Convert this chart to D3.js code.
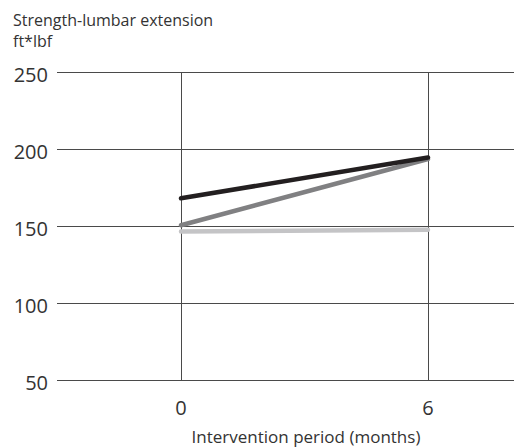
<!DOCTYPE html>
<html>
  <head>
    <meta charset="utf-8" />
    <title>Strength-lumbar extension</title>
    <script src="https://d3js.org/d3.v7.min.js"></script>
    <style>
        body {
            margin:0;
            background:#fff;
        }
        text {
            font-family: "Open Sans", "Noto Sans", sans-serif;
            fill: #333;
        }
    </style>
  </head>
  <body>
    <svg id="viz"></svg>

    <script>
        // data
        var months = [0, 6];
        var yTicks = [50, 100, 150, 200, 250];
        var seriesNames = ["light", "mid", "dark"];
        var lightValues = [146.5, 147.5];
        var midValues = [150.5, 193.5];
        var darkValues = [168, 194.5];
        var seriesColors = ["#c4c4c6", "#808082", "#231f20"];

        var width = 514;
        var height = 447;

        var svg = d3.select("#viz")
          .attr("width", width)
          .attr("height", height);

        var x = d3.scaleLinear().domain([0, 6]).range([181, 428]);
        var y = d3.scaleLinear().domain([50, 250]).range([380, 72]);

        // horizontal grid
        svg.selectAll(".hgrid")
          .data(yTicks)
          .enter().append("line")
          .attr("class", "hgrid")
          .attr("x1", 57).attr("x2", width)
          .attr("y1", function (d) { return y(d) + 0.5; })
          .attr("y2", function (d) { return y(d) + 0.5; })
          .attr("stroke", "#4a4a4a")
          .attr("stroke-width", 1);

        // vertical grid
        svg.selectAll(".vgrid")
          .data(months)
          .enter().append("line")
          .attr("class", "vgrid")
          .attr("x1", function (d) { return Math.round(x(d)) + 0.5; })
          .attr("x2", function (d) { return Math.round(x(d)) + 0.5; })
          .attr("y1", y(250)).attr("y2", y(50))
          .attr("stroke", "#4a4a4a")
          .attr("stroke-width", 1);

        // y tick labels
        svg.selectAll(".ylab")
          .data(yTicks)
          .enter().append("text")
          .attr("class", "ylab")
          .attr("x", 48)
          .attr("y", function (d) { return y(d) + 3; })
          .attr("dy", "0.35em")
          .attr("text-anchor", "end")
          .style("font-size", "20px")
          .text(function (d) { return d; });

        // x tick labels
        svg.selectAll(".xlab")
          .data(months)
          .enter().append("text")
          .attr("class", "xlab")
          .attr("x", function (d) { return x(d); })
          .attr("y", 415)
          .attr("text-anchor", "middle")
          .style("font-size", "20px")
          .text(function (d) { return d; });

        svg.append("text")
          .attr("x", 306)
          .attr("y", 443)
          .attr("text-anchor", "middle")
          .style("font-size", "17px")
          .text("Intervention period (months)");

        svg.append("text")
          .attr("x", 13)
          .attr("y", 26)
          .style("font-size", "16px")
          .text("Strength-lumbar extension");

        svg.append("text")
          .attr("x", 13)
          .attr("y", 47)
          .style("font-size", "16px")
          .text("ft*lbf");

        var allSeries = [lightValues, midValues, darkValues];

        var line = d3.line()
          .x(function (d, i) { return x(months[i]); })
          .y(function (d) { return y(d); });

        svg.selectAll(".series")
          .data(allSeries)
          .enter().append("path")
          .attr("class", "series")
          .attr("d", line)
          .attr("fill", "none")
          .attr("stroke", function (d, i) { return seriesColors[i]; })
          .attr("stroke-width", 4.5)
          .attr("stroke-linecap", "round");
    </script>
  </body>
</html>
